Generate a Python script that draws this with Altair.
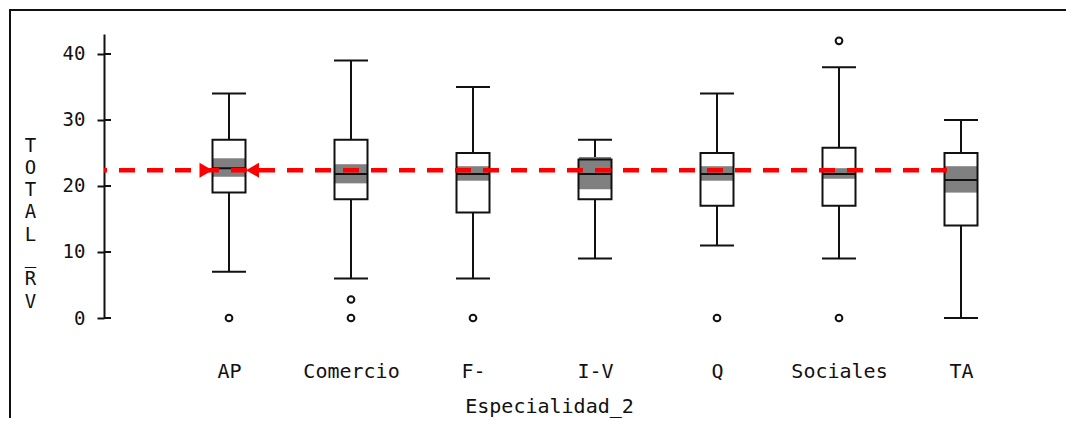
import altair as alt
import pandas as pd

# ---- data ----
cats = ["AP", "Comercio", "F-", "I-V", "Q", "Sociales", "TA"]
whisk_low = [7, 6, 6, 9, 11, 9, 0]
q1 = [19, 18, 16, 18, 17, 17, 14]
median = [22.7, 21.8, 21.8, 21.8, 21.8, 21.8, 20.9]
q3 = [27, 27, 25, 24, 25, 25.8, 25]
whisk_high = [34, 39, 35, 27, 34, 38, 30]
ci_low = [21.4, 20.4, 20.8, 19.5, 20.8, 21.1, 19.0]
ci_high = [24.2, 23.3, 23.0, 24.4, 23.0, 22.7, 23.0]

out_cats = ["AP", "Comercio", "Comercio", "F-", "Q", "Sociales", "Sociales"]
out_vals = [0, 0, 2.8, 0, 0, 0, 42]

ref_value = 22.4
ref_cat_start = "AP"
ref_cat_end = "TA"
y_ticks = [0, 10, 20, 30, 40]

FONT = "DejaVu Sans Mono"

df = pd.DataFrame({
    "cat": cats, "lo": whisk_low, "q1": q1, "med": median, "q3": q3,
    "hi": whisk_high, "cil": ci_low, "cih": ci_high,
})
df_out = pd.DataFrame({"cat": out_cats, "val": out_vals})
df_ref = pd.DataFrame({"cat": [ref_cat_start], "cat_end": [ref_cat_end], "val": [ref_value]})
df_ticks = pd.DataFrame({"t": y_ticks})
df_one = pd.DataFrame({"t": [0]})

xscale = alt.Scale(type="point", domain=cats, range=[125, 857], padding=0)
yscale = alt.Scale(domain=[0, 43.03], nice=False, zero=False)

xaxis = alt.Axis(
    title="Especialidad_2", domain=False, ticks=False, labelPadding=43,
    labelBaseline="top", labelAngle=0, labelFontSize=20, labelFont=FONT,
    labelColor="#111", titleFont=FONT, titleFontSize=20, titleFontWeight="normal",
    titleColor="#111", titleX=445, titleY=88, titleBaseline="middle",
    titleAnchor="start", titleAlign="center",
)
yaxis = alt.Axis(
    title=["T", "O", "T", "A", "L", "_", "R", "V"], values=y_ticks, grid=False,
    domainColor="#111", domainWidth=2, tickColor="#111", tickWidth=2, tickSize=7,
    labelPadding=12, labelFont=FONT, labelFontSize=19, labelColor="#111",
    titleFont=FONT, titleFontSize=19, titleFontWeight="normal", titleColor="#111",
    titleAngle=0, titleAlign="center", titleBaseline="middle", titleLineHeight=22.3,
    titleX=-74, titleY=111,
)

def X(field="cat"):
    return alt.X(f"{field}:N", scale=xscale, axis=xaxis, sort=cats)

def Y(field):
    return alt.Y(f"{field}:Q", scale=yscale, axis=yaxis)

base = alt.Chart(df)

whisk_lo = base.mark_rule(color="#111", strokeWidth=2).encode(x=X(), y=Y("lo"), y2="q1:Q")
whisk_hi = base.mark_rule(color="#111", strokeWidth=2).encode(x=X(), y=Y("q3"), y2="hi:Q")
cap_lo = base.mark_tick(color="#111", size=34, thickness=2, opacity=1).encode(x=X(), y=Y("lo"))
cap_hi = base.mark_tick(color="#111", size=34, thickness=2, opacity=1).encode(x=X(), y=Y("hi"))
box_fill = base.mark_bar(size=33, color="white").encode(x=X(), y=Y("q1"), y2="q3:Q")
band = base.mark_bar(size=32, color="#808080").encode(x=X(), y=Y("cil"), y2="cih:Q")
box_line = base.mark_bar(size=33, fillOpacity=0, stroke="#111", strokeWidth=2).encode(
    x=X(), y=Y("q1"), y2="q3:Q")
med = base.mark_tick(color="#111", size=33, thickness=2, opacity=1).encode(x=X(), y=Y("med"))

outl = alt.Chart(df_out).mark_point(
    shape="circle", size=45, filled=False, color="#111", strokeWidth=2, opacity=1
).encode(x=X(), y=Y("val"))

inner_ticks = alt.Chart(df_ticks).mark_rule(color="#111", strokeWidth=2).encode(
    y=Y("t"), x=alt.value(0), x2=alt.value(7))

ref = alt.Chart(df_ref).mark_rule(
    color="#ff0000", strokeWidth=4.5, strokeDash=[16, 12], xOffset=-14
).encode(x=X("cat_end"), x2=alt.value(0), y=Y("val"))

arrow_r = alt.Chart(df_ref).mark_point(
    shape="triangle-right", size=225, filled=True, color="#ff0000", opacity=1, xOffset=-23
).encode(x=X(), y=Y("val"))
arrow_l = alt.Chart(df_ref).mark_point(
    shape="triangle-left", size=225, filled=True, color="#ff0000", opacity=1, xOffset=23.5
).encode(x=X(), y=Y("val"))

border_top = alt.Chart(df_one).mark_rule(color="#111", strokeWidth=2).encode(
    x=alt.value(-94), x2=alt.value(990), y=alt.value(-24))
border_left = alt.Chart(df_one).mark_rule(color="#111", strokeWidth=2).encode(
    x=alt.value(-94), y=alt.value(-25), y2=alt.value(420))

chart = alt.layer(
    whisk_lo, whisk_hi, cap_lo, cap_hi, box_fill, band, box_line, med, outl,
    inner_ticks, ref, arrow_r, arrow_l, border_top, border_left,
).properties(
    width=890, height=284,
    background="white",
    autosize=alt.AutoSizeParams(type="none"),
    padding={"left": 96, "top": 26, "right": 72, "bottom": 100},
).configure_view(strokeWidth=0, stroke="transparent")

chart.save("out.html", embed_options={"renderer": "svg", "actions": False})
